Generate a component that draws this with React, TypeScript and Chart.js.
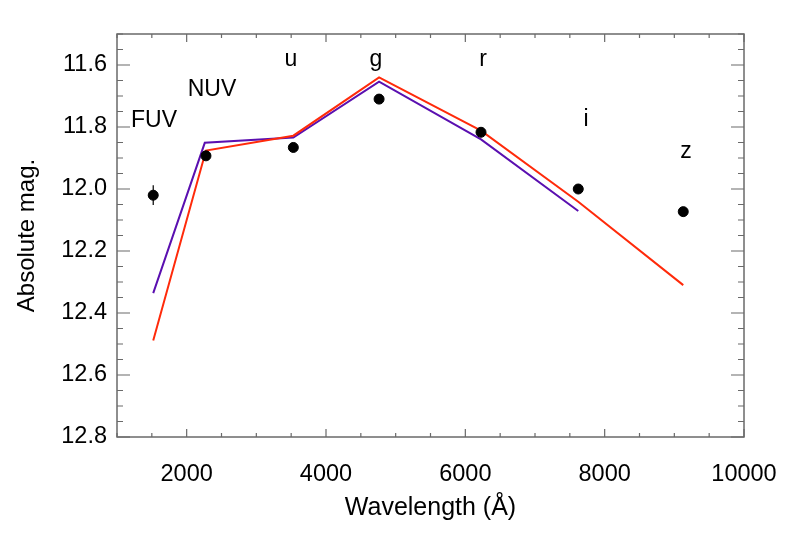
import React, { useEffect, useRef } from "react";
import { Chart, registerables } from "chart.js";

Chart.register(...registerables);

// Observed photometry
const bandNames = ["FUV", "NUV", "u", "g", "r", "i", "z"];
const obsWave = [1520, 2277, 3531, 4762, 6225, 7621, 9128];
const obsMag = [12.02, 11.893, 11.866, 11.71, 11.817, 12.0, 12.073];
const obsErr = [0.032, 0.01, 0.01, 0.01, 0.01, 0.01, 0.01];

// Model curves
const purpleWave = [1520, 2260, 3531, 4762, 6225, 7621];
const purpleMag = [12.336, 11.851, 11.834, 11.654, 11.84, 12.071];
const redWave = [1520, 2277, 3531, 4762, 6225, 7621, 9128];
const redMag = [12.489, 11.876, 11.828, 11.64, 11.812, 12.041, 12.31];

// Band label positions (data coords, baseline)
const labelWave = [1531, 2364, 3497, 4717, 6253, 7732, 9167];
const labelMag = [11.8, 11.7, 11.603, 11.603, 11.603, 11.797, 11.899];

// Axes
const xMin = 1000;
const xMax = 10000;
const yMin = 11.5;
const yMax = 12.8;
const xMajorTicks = [2000, 4000, 6000, 8000, 10000];
const yMajorTicks = [11.6, 11.8, 12.0, 12.2, 12.4, 12.6, 12.8];
const xMinorStep = 500;
const yMinorStep = 0.05;

const FONT = "'Liberation Sans', Arial, Helvetica, sans-serif";
const AXIS_COLOR = "#6a6a6a";

const framePlugin = {
  id: "frameTicks",
  afterDatasetsDraw(chart: any) {
    const { ctx, chartArea, scales } = chart;
    const xs = scales.x;
    const ys = scales.y;
    const { left, right, top, bottom } = chartArea;
    ctx.save();
    // error bars
    ctx.strokeStyle = "#000";
    ctx.lineWidth = 1.2;
    obsWave.forEach((w, i) => {
      const px = xs.getPixelForValue(w);
      ctx.beginPath();
      ctx.moveTo(px, ys.getPixelForValue(obsMag[i] - obsErr[i]));
      ctx.lineTo(px, ys.getPixelForValue(obsMag[i] + obsErr[i]));
      ctx.stroke();
    });
    // frame
    ctx.strokeStyle = AXIS_COLOR;
    ctx.lineWidth = 1.5;
    ctx.strokeRect(left, top, right - left, bottom - top);
    ctx.lineWidth = 1.2;
    // x ticks
    for (let v = xMin; v <= xMax + 1e-6; v += xMinorStep) {
      const major = xMajorTicks.some((t) => Math.abs(t - v) < 1e-6);
      const len = major ? 8 : 4;
      const px = xs.getPixelForValue(v);
      ctx.beginPath();
      ctx.moveTo(px, bottom);
      ctx.lineTo(px, bottom - len);
      ctx.moveTo(px, top);
      ctx.lineTo(px, top + len);
      ctx.stroke();
    }
    // y ticks
    const n = Math.round((yMax - yMin) / yMinorStep);
    for (let k = 0; k <= n; k++) {
      const v = yMin + k * yMinorStep;
      const major = yMajorTicks.some((t) => Math.abs(t - v) < 1e-6);
      const len = major ? 13 : 6;
      const py = ys.getPixelForValue(v);
      ctx.beginPath();
      ctx.moveTo(left, py);
      ctx.lineTo(left + len, py);
      ctx.moveTo(right, py);
      ctx.lineTo(right - len, py);
      ctx.stroke();
    }
    // band labels
    ctx.fillStyle = "#000";
    ctx.font = `23px ${FONT}`;
    ctx.textAlign = "center";
    ctx.textBaseline = "alphabetic";
    bandNames.forEach((name, i) => {
      ctx.fillText(name, xs.getPixelForValue(labelWave[i]), ys.getPixelForValue(labelMag[i]));
    });
    ctx.restore();
  },
};

export default function App() {
  const ref = useRef<HTMLCanvasElement>(null);
  useEffect(() => {
    document.body.style.margin = "0";
    const canvas = ref.current!;
    const chart = new Chart(canvas, {
      type: "scatter",
      data: {
        datasets: [
          {
            label: "obs",
            data: obsWave.map((x, i) => ({ x, y: obsMag[i] })),
            backgroundColor: "#000",
            borderColor: "#000",
            pointRadius: 5,
            pointHoverRadius: 5,
            showLine: false,
          },
          {
            label: "red",
            data: redWave.map((x, i) => ({ x, y: redMag[i] })),
            borderColor: "#ff2a0a",
            borderWidth: 2,
            pointRadius: 0,
            showLine: true,
            tension: 0,
          },
          {
            label: "purple",
            data: purpleWave.map((x, i) => ({ x, y: purpleMag[i] })),
            borderColor: "#5a0fb0",
            borderWidth: 2,
            pointRadius: 0,
            showLine: true,
            tension: 0,
          },
        ],
      },
      options: {
        animation: false,
        responsive: false,
        maintainAspectRatio: false,
        events: [],
        layout: { padding: { top: 34, right: 45, left: 0, bottom: 0 } },
        plugins: { legend: { display: false }, tooltip: { enabled: false } },
        scales: {
          x: {
            type: "linear",
            position: "bottom",
            min: xMin,
            max: xMax,
            grid: { display: false, drawTicks: false },
            border: { display: false },
            afterBuildTicks: (s: any) => {
              s.ticks = xMajorTicks.map((v) => ({ value: v }));
            },
            afterFit: (s: any) => {
              s.height = 96;
              s.paddingLeft = 0;
              s.paddingRight = 0;
            },
            ticks: {
              color: "#000",
              padding: 23,
              maxRotation: 0,
              autoSkip: false,
              font: { family: FONT, size: 23.5 },
              callback: (v: any) => String(v),
            },
            title: {
              display: true,
              text: "Wavelength (Å)",
              color: "#000",
              font: { family: FONT, size: 25 },
              padding: { top: 0, bottom: 10 },
            },
          },
          y: {
            type: "linear",
            position: "left",
            reverse: true,
            min: yMin,
            max: yMax,
            grid: { display: false, drawTicks: false },
            border: { display: false },
            afterBuildTicks: (s: any) => {
              s.ticks = yMajorTicks.map((v) => ({ value: v }));
            },
            afterFit: (s: any) => {
              s.width = 117;
              s.paddingTop = 0;
              s.paddingBottom = 0;
            },
            ticks: {
              color: "#000",
              padding: 10,
              autoSkip: false,
              font: { family: FONT, size: 23.5 },
              callback: (v: any) => Number(v).toFixed(1),
            },
            title: {
              display: true,
              text: "Absolute mag.",
              color: "#000",
              font: { family: FONT, size: 24 },
              padding: { top: 13, bottom: 0 },
            },
          },
        },
      },
      plugins: [framePlugin],
    });
    return () => chart.destroy();
  }, []);
  return (
    <div style={{ position: "absolute", left: 0, top: 0, width: 789, height: 533, background: "#fff" }}>
      <canvas ref={ref} width={789} height={533} style={{ width: 789, height: 533 }} />
    </div>
  );
}
